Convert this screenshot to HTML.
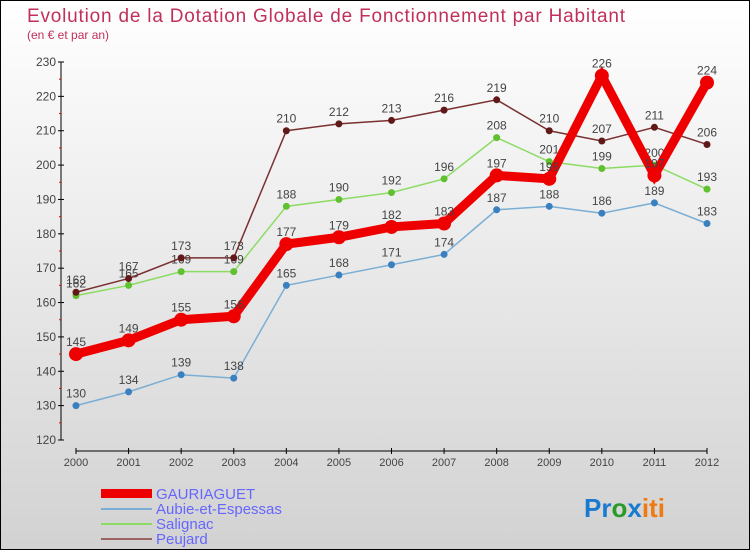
<!DOCTYPE html>
<html><head><meta charset="utf-8"><style>
body{margin:0}
#c{width:748px;height:548px;border:1px solid #000;background:linear-gradient(#fff,#d2d2d2);position:relative;font-family:"Liberation Sans","DejaVu Sans",sans-serif}
</style></head><body>
<div id="c">
<svg id="s" width="748" height="548" xmlns="http://www.w3.org/2000/svg" style="position:absolute;left:0;top:0">
<text x="26" y="21" font-size="19" fill="#c0305a" textLength="598">Evolution de la Dotation Globale de Fonctionnement par Habitant</text>
<text x="26" y="38" font-size="12" fill="#c0305a">(en € et par an)</text>
<line x1="60" y1="61" x2="60" y2="439" stroke="#000"/>
<line x1="75" y1="450" x2="706" y2="450" stroke="#000"/>
<g id="ax"></g><g id="ser"></g>
<g font-size="15" fill="#6666ff">
<rect x="100" y="488" width="51" height="9" fill="#e00"/>
<text x="155" y="498">GAURIAGUET</text>
<line x1="100" y1="508" x2="151" y2="508" stroke="#7aaed4" stroke-width="2"/>
<text x="155" y="513">Aubie-et-Espessas</text>
<line x1="100" y1="523" x2="151" y2="523" stroke="#8cdc64" stroke-width="2"/>
<text x="155" y="528">Salignac</text>
<line x1="100" y1="538" x2="151" y2="538" stroke="#9a6464" stroke-width="2"/>
<text x="155" y="543">Peujard</text>
</g>
<text x="583" y="516" font-size="26" font-weight="bold"><tspan fill="#1a7ad0">Pr</tspan><tspan fill="#2a9a2a">o</tspan><tspan fill="#1a7ad0">x</tspan><tspan fill="#f07a10">iti</tspan></text>
</svg></div>
<script>
const years=[2000,2001,2002,2003,2004,2005,2006,2007,2008,2009,2010,2011,2012];
const yTicks=[120,130,140,150,160,170,180,190,200,210,220,230];
const gauriaguet=[145,149,155,156,177,179,182,183,197,196,226,197,224];
const aubie=[130,134,139,138,165,168,171,174,187,188,186,189,183];
const salignac=[162,165,169,169,188,190,192,196,208,201,199,200,193];
const peujard=[163,167,173,173,210,212,213,216,219,210,207,211,206];
const NS="http://www.w3.org/2000/svg";
const X=i=>75+i*(631/12);
const Y=v=>439-(v-120)*(378/110);
function mk(t,a,p){const e=document.createElementNS(NS,t);for(const k in a)e.setAttribute(k,a[k]);p.appendChild(e);return e;}
const ax=document.getElementById('ax');
yTicks.forEach(v=>{
 const l=mk('line',{x1:57,x2:63,y1:Y(v),y2:Y(v),stroke:'#000'},ax);
 
 
 const t=mk('text',{x:55,y:Y(v)+4,'font-size':12,'text-anchor':'end',fill:'#444'},ax);t.textContent=v;
 
 
 if(v<230){mk('line',{x1:58,x2:60,y1:Y(v+5),y2:Y(v+5),stroke:'#e00'},ax);}
});
years.forEach((y,i)=>{
 mk('line',{x1:X(i),x2:X(i),y1:447,y2:453,stroke:'#000'},ax);
 const t=mk('text',{x:X(i),y:465,'font-size':11,'text-anchor':'middle',fill:'#444'},ax);t.textContent=y;
 
 
});
const ser=document.getElementById('ser');
function draw(d,col,dot,w,r,name){
 const g=mk('g',{},ser);
 
 
 mk('polyline',{points:d.map((v,i)=>X(i)+','+Y(v)).join(' '),fill:'none',stroke:col,'stroke-width':w,'stroke-linejoin':'miter'},g);
 d.forEach((v,i)=>{
  const c=mk('circle',{cx:X(i),cy:Y(v),r:r,fill:dot},g);
  
  
  const t=mk('text',{x:X(i),y:Y(v)-8,'font-size':12,'text-anchor':'middle',fill:'#444'},g);t.textContent=v;
  
  
 });
}
draw(aubie,'#7aaed4','#3a80c0',1.5,3.5,'aubie');
draw(salignac,'#8cdc64','#60c030',1.5,3.5,'salignac');
draw(peujard,'#7a3030','#601818',1.5,3.5,'peujard');
draw(gauriaguet,'#e00','#e00',9,7,'gauriaguet');
</script>
</body></html>
